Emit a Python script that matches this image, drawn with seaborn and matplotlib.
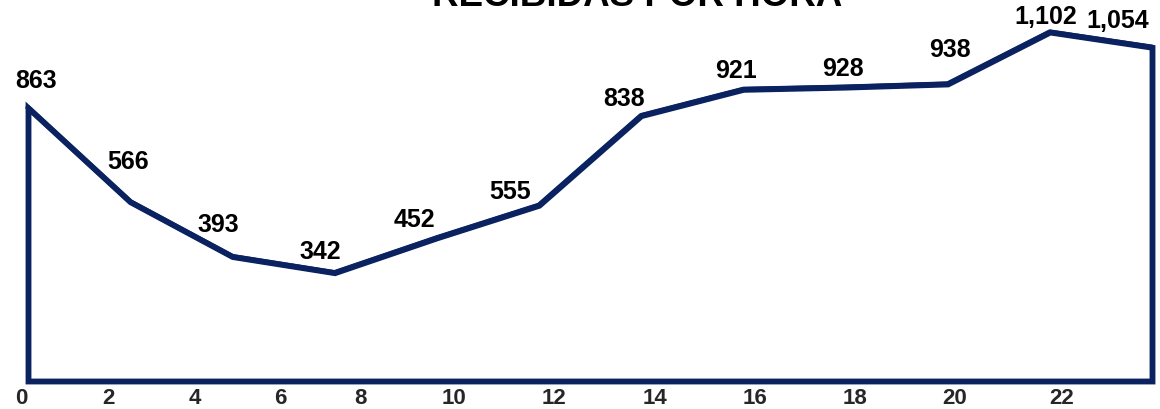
import matplotlib
matplotlib.use("Agg")
import matplotlib.pyplot as plt
import seaborn as sns
import pandas as pd

# ----------------------------
# Data
# ----------------------------
hours = [0, 2, 4, 6, 8, 10, 12, 14, 16, 18, 20, 22]
received = [863, 566, 393, 342, 452, 555, 838, 921, 928, 938, 1102, 1054]
tick_labels = ["0", "2", "4", "6", "8", "10", "12", "14", "16", "18", "20", "22"]
title = "RECIBIDAS POR HORA"

df = pd.DataFrame({"hora": hours, "recibidas": received})

# ----------------------------
# Layout / style
# ----------------------------
navy = "#0A2260"
W, H = 1160, 409
first_px, last_px = 28, 1152          # pixel of first / last point
ax_left, ax_bottom, ax_top = 12, 381, 1

# tick label centres in pixels (labels in the reference are not evenly spaced)
tick_px = [21, 108, 195, 280, 360, 454, 554, 655, 755, 855, 955, 1062]
# label offsets (pixels) from each point
label_off = [(8, 27), (-2, 40), (-14, 32), (-14, 21), (-22, 18), (-29, 13),
             (-17, 17), (-7, 18), (-3, 18), (2, 34), (-4, 15), (-34, 26)]

sns.set_style("white")
plt.rcParams["font.family"] = ["Liberation Sans", "DejaVu Sans"]

fig = plt.figure(figsize=(W / 100, H / 100), dpi=100)
ax = fig.add_axes([ax_left / W, (H - ax_bottom) / H,
                   (last_px - ax_left) / W, (ax_bottom - ax_top) / H])

# outline of area (white fill, navy edge)
ax.fill_between(df["hora"], df["recibidas"], 0, facecolor="white",
                edgecolor=navy, linewidth=4.2, clip_on=False, joinstyle="miter")
sns.lineplot(data=df, x="hora", y="recibidas", color=navy, linewidth=3.8,
             ax=ax, clip_on=False)

for x, y, (dx, dy) in zip(hours, received, label_off):
    ax.annotate(f"{y:,}", (x, y), xytext=(dx, dy), textcoords="offset pixels",
                ha="center", va="center", fontsize=18, fontweight="bold",
                color="black", annotation_clip=False)

span = hours[-1] - hours[0]
per_px = span / (last_px - first_px)
ax.set_xticks([(p - first_px) * per_px for p in tick_px])
ax.set_xticklabels(tick_labels, fontsize=16, fontweight="bold")
ax.set_xlim(hours[0] - (first_px - ax_left) * per_px, hours[-1])
ax.set_ylim(0, 1200)
ax.tick_params(axis="x", length=0, pad=5)
ax.set_yticks([])
ax.set_xlabel("")
ax.set_ylabel("")
for s in ax.spines.values():
    s.set_visible(False)

fig.text(637 / W, 1 - 6 / H, title, ha="center", va="baseline",
         fontsize=26.5, fontweight="bold", color="black")

fig.savefig("out.png", dpi=100)
